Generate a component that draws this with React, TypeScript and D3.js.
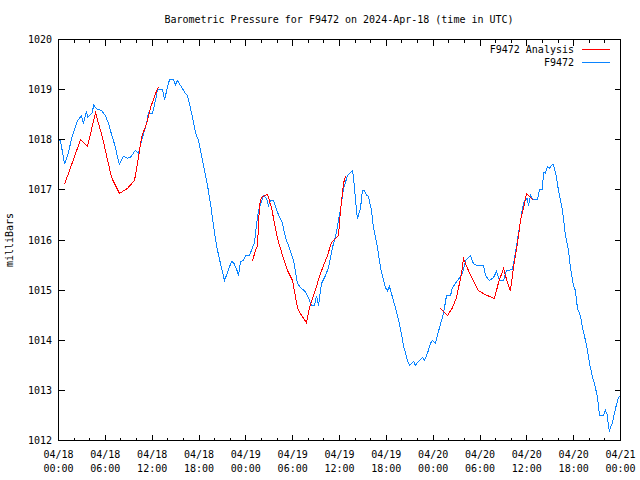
import React from "react";
import * as d3 from "d3";

const titleText = "Barometric Pressure for F9472 on 2024-Apr-18 (time in UTC)";
const yLabel = "milliBars";
const seriesNames = ["F9472 Analysis", "F9472"];
const seriesColors = ["#ff0000", "#0a84ff"];
const startTime = Date.UTC(2024, 3, 18, 0, 0);
const endTime = Date.UTC(2024, 3, 21, 0, 0);
const yTicks = [1012, 1013, 1014, 1015, 1016, 1017, 1018, 1019, 1020];

// Observed station pressure: hours since 04/18 00:00 UTC
const obsHours = [
  0, 0.26, 0.77, 1.28, 1.67, 2.43, 2.95, 3.2, 3.59, 3.72, 4.36, 4.48, 4.87, 5.51, 6.02, 6.41, 6.92, 7.3, 7.56, 7.81,
  8.33, 8.84, 9.22, 9.86, 10.25, 10.63, 11.27, 11.53, 12.04, 12.55, 12.68, 13.32, 13.58, 13.96, 14.22, 14.73, 14.99,
  15.24, 15.89, 16.27, 16.53, 16.78, 17.17, 17.55, 17.94, 18.19, 18.58, 18.83, 19.09, 19.47, 19.86, 20.24, 20.75,
  21.27, 21.65, 22.16, 22.42, 22.8, 23.06, 23.32, 23.7, 23.96, 24.47, 24.85, 25.11, 25.37, 25.62, 25.88, 26.26, 26.65,
  26.9, 27.16, 27.54, 28.06, 28.7, 29.08, 29.46, 30.11, 30.62, 31.0, 31.64, 32.03, 32.41, 32.8, 33.05, 33.31, 33.69,
  34.2, 34.59, 35.1, 35.61, 35.87, 36.25, 36.51, 36.77, 37.02, 37.66, 37.79, 38.18, 38.3, 38.69, 38.94, 39.2, 39.46,
  39.71, 40.1, 40.35, 40.87, 41.25, 41.89, 42.15, 42.4, 42.92, 43.43, 43.81, 44.2, 44.71, 44.97, 45.48, 45.73, 46.12,
  46.63, 46.89, 47.27, 47.66, 47.91, 48.3, 48.94, 49.32, 49.71, 50.22, 50.47, 51.11, 51.76, 52.14, 52.78, 53.16,
  53.68, 54.45, 54.7, 55.21, 55.73, 56.11, 56.5, 57.01, 57.39, 58.16, 58.54, 58.93, 59.44, 59.7, 60.08, 60.21, 60.47,
  60.72, 61.36, 61.62, 62.0, 62.13, 62.39, 62.64, 62.9, 63.28, 63.41, 63.8, 64.05, 64.57, 64.95, 65.33, 65.59, 65.97,
  66.23, 66.49, 66.87, 67.13, 67.38, 67.77, 68.03, 68.41, 68.67, 69.05, 69.31, 69.82, 70.07, 70.33, 70.46, 70.59,
  70.97, 71.36, 71.74, 72.0,
];
const obsValues = [
  1018.0, 1017.98, 1017.51, 1017.75, 1018.02, 1018.38, 1018.48, 1018.32, 1018.58, 1018.44, 1018.54, 1018.7, 1018.62,
  1018.58, 1018.48, 1018.32, 1018.04, 1017.85, 1017.65, 1017.51, 1017.67, 1017.63, 1017.65, 1017.79, 1017.73,
  1017.98, 1018.32, 1018.54, 1018.52, 1018.88, 1019.0, 1019.0, 1018.8, 1019.04, 1019.2, 1019.2, 1019.1, 1019.18,
  1019.02, 1018.92, 1018.88, 1018.72, 1018.44, 1018.14, 1017.98, 1017.79, 1017.49, 1017.29, 1017.09, 1016.73,
  1016.29, 1015.89, 1015.53, 1015.19, 1015.35, 1015.57, 1015.55, 1015.43, 1015.29, 1015.57, 1015.59, 1015.69,
  1015.69, 1015.85, 1015.95, 1016.31, 1016.59, 1016.71, 1016.89, 1016.83, 1016.69, 1016.79, 1016.79, 1016.55,
  1016.33, 1016.05, 1015.89, 1015.59, 1015.13, 1015.05, 1014.97, 1014.85, 1014.69, 1014.69, 1014.89, 1014.69,
  1015.13, 1015.29, 1015.45, 1015.85, 1016.15, 1016.39, 1016.73, 1017.03, 1017.15, 1017.29, 1017.39, 1017.25,
  1016.59, 1016.43, 1016.63, 1016.99, 1016.99, 1016.89, 1016.87, 1016.59, 1016.25, 1015.85, 1015.45, 1015.05,
  1014.99, 1015.07, 1014.79, 1014.49, 1014.23, 1013.89, 1013.6, 1013.5, 1013.58, 1013.5, 1013.58, 1013.66, 1013.6,
  1013.74, 1013.94, 1014.0, 1013.94, 1014.33, 1014.53, 1014.89, 1014.89, 1015.05, 1015.19, 1015.33, 1015.59,
  1015.69, 1015.53, 1015.49, 1015.49, 1015.29, 1015.19, 1015.25, 1015.37, 1015.19, 1015.19, 1015.39, 1015.41,
  1015.75, 1016.13, 1016.63, 1016.79, 1016.83, 1016.67, 1016.89, 1016.81, 1016.81, 1017.01, 1017.01, 1017.35,
  1017.33, 1017.47, 1017.43, 1017.51, 1017.51, 1017.25, 1016.99, 1016.59, 1016.09, 1015.79, 1015.45, 1015.09,
  1014.99, 1014.63, 1014.49, 1014.25, 1014.09, 1013.8, 1013.54, 1013.26, 1013.14, 1012.86, 1012.5, 1012.5, 1012.6,
  1012.5, 1012.26, 1012.2, 1012.36, 1012.64, 1012.86, 1012.9,
];

// Analysis pressure (three separate runs; null = gap)
const anaHours = [
  0.77, 2.82, 3.72, 4.74, 5.64, 6.79, 7.81, 8.84, 9.74, 10.25, 10.63, 11.4, 11.79, 12.43, 12.81, null,
  24.85, 25.24, 25.49, 25.75, 26.01, 26.52, 26.77, 27.29, 27.67, 28.06, 28.7, 29.34, 29.98, 30.62, 31.0, 31.77,
  32.16, 32.92, 33.56, 34.46, 34.97, 35.49, 35.87, 36.13, 36.51, 36.77, null,
  48.81, 49.83, 50.47, 50.99, 51.63, 51.88, 52.4, 53.16, 53.8, 54.7, 55.85, 56.37, 57.01, 57.52, 57.9, 58.29,
  58.8, 59.19, 59.57, 59.95, 60.34, 60.85,
];
const anaValues = [
  1017.11, 1018.0, 1017.87, 1018.54, 1018.04, 1017.25, 1016.93, 1017.03, 1017.19, 1017.65, 1018.04, 1018.38,
  1018.64, 1018.92, 1019.06, null,
  1015.59, 1015.79, 1015.89, 1016.69, 1016.85, 1016.89, 1016.91, 1016.65, 1016.33, 1016.03, 1015.69, 1015.39,
  1015.19, 1014.65, 1014.53, 1014.35, 1014.65, 1015.01, 1015.33, 1015.69, 1015.95, 1016.03, 1016.09, 1016.59,
  1017.13, 1017.27, null,
  1014.65, 1014.49, 1014.65, 1014.85, 1015.33, 1015.63, 1015.43, 1015.19, 1014.99, 1014.91, 1014.83, 1015.15,
  1015.43, 1015.15, 1014.99, 1015.45, 1015.93, 1016.39, 1016.63, 1016.93, 1016.87, 1016.79,
];

type Pt = { t: Date | null; v: number | null };

export default function App() {
  const W = 640;
  const H = 480;
  const left = 58.5, right = 620.5, top = 39.5, bottom = 440.5;
  const font = "'DejaVu Sans Mono', monospace";

  const x = d3.scaleUtc().domain([new Date(startTime), new Date(endTime)]).range([left, right]);
  const y = d3.scaleLinear().domain([1012, 1020]).range([bottom, top]);
  const toDate = (h: number) => new Date(startTime + h * 3600 * 1000);

  const obs: Pt[] = obsHours.map((h, i) => ({ t: toDate(h), v: obsValues[i] }));
  const ana: Pt[] = anaHours.map((h, i) => ({ t: h == null ? null : toDate(h), v: anaValues[i] }));

  const line = d3
    .line<Pt>()
    .defined((d) => d.t != null && d.v != null)
    .x((d) => x(d.t as Date))
    .y((d) => y(d.v as number));

  const majorTicks = d3.utcHour.every(6)!.range(new Date(startTime), new Date(endTime + 1));
  const minorTicks = d3.utcHour.every(2)!.range(new Date(startTime), new Date(endTime + 1));
  const fmtDate = d3.utcFormat("%m/%d");
  const fmtTime = d3.utcFormat("%H:%M");

  return (
    <svg
      width={W}
      height={H}
      style={{ position: "absolute", left: 0, top: 0, background: "#fff" }}
      fontFamily={font}
      fontSize={10}
    >
      <rect x={0} y={0} width={W} height={H} fill="#fff" />
      <text x={339} y={23} textAnchor="middle" fill="#000">{titleText}</text>
      <text transform={`translate(13,240) rotate(-90)`} textAnchor="middle" fill="#000">{yLabel}</text>

      {/* y ticks */}
      {yTicks.map((t) => (
        <g key={"y" + t}>
          <line x1={left} x2={left + 6} y1={Math.round(y(t) - 0.5) + 0.5} y2={Math.round(y(t) - 0.5) + 0.5} stroke="#000" shapeRendering="crispEdges" />
          <line x1={right - 6} x2={right} y1={Math.round(y(t) - 0.5) + 0.5} y2={Math.round(y(t) - 0.5) + 0.5} stroke="#000" shapeRendering="crispEdges" />
          <text x={52} y={y(t) + 3.5} textAnchor="end" fill="#000">{t}</text>
        </g>
      ))}

      {/* x minor ticks */}
      {minorTicks.map((d) => {
        const px = Math.round(x(d) - 0.5) + 0.5;
        return (
          <g key={"m" + d.getTime()}>
            <line x1={px} x2={px} y1={bottom} y2={bottom - 3} stroke="#000" shapeRendering="crispEdges" />
            <line x1={px} x2={px} y1={top} y2={top + 3} stroke="#000" shapeRendering="crispEdges" />
          </g>
        );
      })}
      {/* x major ticks & labels */}
      {majorTicks.map((d) => {
        const px = Math.round(x(d) - 0.5) + 0.5;
        return (
          <g key={"M" + d.getTime()}>
            <line x1={px} x2={px} y1={bottom} y2={bottom - 6} stroke="#000" shapeRendering="crispEdges" />
            <line x1={px} x2={px} y1={top} y2={top + 6} stroke="#000" shapeRendering="crispEdges" />
            <text x={x(d)} y={458} textAnchor="middle" fill="#000">{fmtDate(d)}</text>
            <text x={x(d)} y={472} textAnchor="middle" fill="#000">{fmtTime(d)}</text>
          </g>
        );
      })}

      {/* series */}
      <path d={line(obs) || ""} fill="none" stroke={seriesColors[1]} strokeWidth={1} shapeRendering="crispEdges" />
      <path d={line(ana) || ""} fill="none" stroke={seriesColors[0]} strokeWidth={1} shapeRendering="crispEdges" />

      {/* frame */}
      <rect x={left} y={top} width={right - left} height={bottom - top} fill="none" stroke="#000" shapeRendering="crispEdges" />

      {/* legend */}
      {seriesNames.map((name, i) => (
        <g key={name}>
          <text x={574} y={53 + i * 13} textAnchor="end" fill="#000">{name}</text>
          <line x1={582} x2={610} y1={49.5 + i * 13} y2={49.5 + i * 13} stroke={seriesColors[i]} shapeRendering="crispEdges" />
        </g>
      ))}
    </svg>
  );
}
